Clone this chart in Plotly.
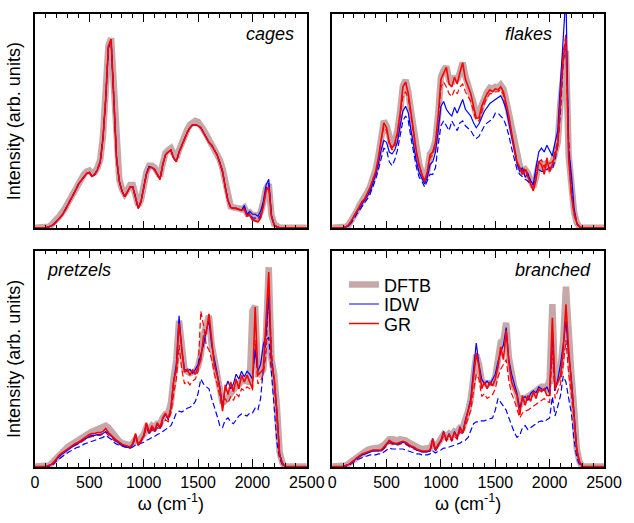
import plotly.graph_objects as go

# frequency grid (cm^-1)
omega = list(range(0, 2501, 25))

# ---------------- cages ----------------
cages_dftb = [0,0,0,0,0,1,3,5,9,12,15,20,25,30,35,41,47,51,55,58,59,56,57,62,70,94,135,187,195,135,75,50,40,35,39,44,44,35,23,29,44,57,64,64,62,57,53,66,77,80,82,76,72,80,88,95,101,106,109,110,109,106,101,96,91,88,83,78,70,61,45,30,22,21,21,20,19,21,15,16,13,13,11,16,26,40,45,13,4,1,0,0,0,0,0,0,0,0,0,0,0]
cages_idw = [0,0,0,0,0,1,2,4,7,10,13,18,23,28,33,39,45,49,53,56,57,53,55,60,68,92,132,185,193,132,72,48,38,32,37,42,42,32,20,27,42,56,63,62,60,55,50,65,75,78,80,72,68,78,85,92,98,103,106,106,105,103,98,93,88,85,80,75,67,58,42,28,21,20,20,19,18,23,14,17,14,14,12,17,27,44,50,13,3,1,0,0,0,0,0,0,0,0,0,0,0]
cages_idw_dash = [0,0,0,0,0,1,2,4,7,10,13,18,23,28,33,39,45,49,53,56,57,53,55,60,68,92,132,185,193,132,72,48,38,32,37,42,42,32,20,27,42,56,63,62,60,55,50,65,75,78,80,72,68,78,85,92,98,103,106,106,105,103,98,93,88,85,80,75,67,58,42,28,21,20,20,19,18,21,13,15,10,10,9,13,24,40,46,12,3,1,0,0,0,0,0,0,0,0,0,0,0]
cages_gr = [0,0,0,0,0,1,2,4,7,10,13,18,23,28,33,39,45,49,53,56,57,53,55,60,68,92,132,187,194,132,72,48,38,32,37,42,42,32,20,27,42,55,62,62,60,55,50,65,75,78,80,72,68,78,85,92,98,103,106,106,105,103,98,93,88,85,80,75,67,58,42,28,21,20,20,19,18,19,12,13,8,7,6,10,22,38,42,12,3,1,0,0,0,0,0,0,0,0,0,0,0]
cages_gr_dash = [0,0,0,0,0,1,2,4,7,10,13,18,23,28,33,39,45,49,53,56,57,53,55,60,68,92,132,186,194,132,72,48,38,32,37,42,42,32,20,27,42,55,62,62,60,55,50,65,75,78,80,72,68,78,85,92,98,103,106,106,105,103,98,93,88,85,80,75,67,58,42,28,21,20,20,19,18,20,13,14,9,8,7,11,23,39,43,12,3,1,0,0,0,0,0,0,0,0,0,0,0]

# ---------------- flakes ----------------
flakes_dftb = [0,0,0,0,0,1,3,7,12,17,23,27,31,37,43,51,60,74,94,110,105,90,84,89,100,120,146,152,140,120,100,80,66,56,50,59,76,80,90,117,155,162,166,152,148,156,152,160,170,156,148,140,128,116,115,126,134,140,144,143,145,144,147,143,131,117,100,84,70,64,58,60,56,48,42,52,66,66,60,68,62,66,76,88,130,162,182,74,37,16,5,1,0,0,0,0,0,0,0,0,0]
flakes_idw = [0,0,0,0,0,1,2,6,12,16,20,24,28,33,38,46,55,66,80,90,88,78,76,80,88,105,120,125,118,100,82,68,57,50,45,52,65,68,78,100,125,130,122,118,115,124,118,125,132,122,118,115,108,103,107,113,120,124,128,130,132,134,136,130,122,108,95,80,66,58,62,52,56,48,45,62,78,82,78,85,80,74,88,100,150,200,240,80,55,20,5,1,0,0,0,0,0,0,0,0,0]
flakes_idw_dash = [0,0,0,0,0,1,2,5,10,14,18,22,25,30,35,42,50,60,72,82,80,68,64,70,80,95,110,115,110,92,75,62,52,48,42,48,55,55,62,85,105,110,105,100,110,105,100,108,110,105,102,100,95,92,94,100,105,108,110,112,118,118,115,112,105,95,82,70,60,55,52,50,48,45,44,55,60,58,58,60,62,60,70,85,120,170,190,90,40,15,4,1,0,0,0,0,0,0,0,0,0]
flakes_gr = [0,0,0,0,0,1,3,7,12,17,23,27,30,36,42,50,58,72,92,108,103,88,82,87,98,118,145,150,138,118,98,78,65,55,48,58,75,78,88,115,153,160,165,148,145,155,148,160,170,153,145,138,125,113,113,125,132,138,142,140,143,142,145,140,128,115,98,82,68,62,55,60,53,45,38,50,68,65,55,70,58,65,75,85,132,175,195,72,35,15,5,1,0,0,0,0,0,0,0,0,0]
flakes_gr_dash = [0,0,0,0,0,1,3,7,12,17,22,26,29,34,40,48,56,70,90,104,100,86,80,84,96,114,135,140,133,115,96,76,63,54,47,56,72,75,85,110,145,150,145,138,135,142,138,145,148,140,135,130,120,110,110,120,128,134,138,138,140,140,142,137,125,112,96,80,67,60,58,62,55,48,42,55,68,70,62,72,66,68,78,90,140,180,200,75,35,13,4,1,0,0,0,0,0,0,0,0,0]

# ---------------- pretzels ----------------
pretzels_dftb = [0,0,0,0,0,1,3,6,10,13,16,18,20,22,24,26,27,29,31,33,35,36,37,38,39,40,42,40,36,32,29,26,24,23,22,22,24,28,26,29,33,40,38,42,40,44,44,50,54,55,65,90,110,150,115,100,98,96,97,98,103,115,135,145,155,125,105,95,80,65,68,72,75,78,82,84,88,88,88,86,160,165,95,95,100,135,205,110,95,62,15,4,0,0,0,0,0,0,0,0,0]
pretzels_idw = [0,0,0,0,0,1,2,5,8,11,13,15,17,19,21,23,24,26,28,29,31,32,32,33,33,34,36,34,31,28,26,24,22,21,20,19,23,33,22,27,31,44,34,41,36,44,39,49,54,48,60,88,105,155,120,100,98,100,96,100,105,115,125,140,150,125,110,98,82,62,80,88,80,85,95,90,98,92,98,95,90,120,98,105,125,135,175,110,90,58,13,4,0,0,0,0,0,0,0,0,0]
pretzels_idw_dash = [0,0,0,0,0,0,1,3,6,8,10,12,14,16,17,19,20,21,23,24,25,26,27,28,29,30,32,30,28,25,23,22,21,20,20,19,20,22,23,24,25,27,28,30,31,33,34,36,38,40,42,48,55,57,56,58,60,61,63,67,75,90,85,82,80,70,62,52,42,40,48,50,46,44,48,52,54,53,52,55,55,60,58,70,100,130,133,95,55,25,8,2,0,0,0,0,0,0,0,0,0]
pretzels_gr = [0,0,0,0,0,1,2,5,9,12,14,16,18,20,22,24,25,27,29,31,33,34,34,35,35,36,39,35,32,29,27,25,23,22,21,20,24,34,22,27,32,45,35,42,37,45,40,50,55,49,60,87,100,147,124,97,100,94,99,95,102,110,134,137,157,127,104,94,80,57,84,74,87,77,90,80,94,87,94,87,80,164,94,97,100,150,200,105,92,55,12,3,0,0,0,0,0,0,0,0,0]
pretzels_gr_dash = [0,0,0,0,0,1,2,4,8,11,13,15,17,19,21,22,23,25,27,28,30,31,31,32,32,33,35,32,29,27,25,23,22,21,20,19,22,30,21,25,30,40,33,38,35,40,38,45,48,46,55,75,90,125,100,85,88,84,88,90,98,160,145,125,120,110,95,85,72,60,70,65,72,68,75,72,80,78,82,80,78,130,85,88,95,115,180,120,85,55,13,3,0,0,0,0,0,0,0,0,0]

# ---------------- branched ----------------
branched_dftb = [0,0,0,0,0,1,3,5,8,11,13,15,16,17,18,19,19,19,20,22,25,28,28,27,27,28,28,27,25,23,22,20,19,18,18,18,19,24,21,24,28,33,31,34,32,36,35,40,40,48,57,70,95,115,105,88,86,84,86,86,92,108,128,130,148,112,92,82,75,62,70,70,72,74,77,78,80,82,82,80,90,167,85,90,100,130,185,125,95,60,18,5,0,0,0,0,0,0,0,0,0]
branched_idw = [0,0,0,0,0,1,2,4,6,8,10,12,13,14,15,16,16,16,16,19,22,26,24,23,23,24,25,24,22,20,19,17,16,15,15,15,16,29,16,22,26,36,27,34,27,36,29,41,34,48,58,70,100,127,105,90,85,88,84,90,95,108,118,125,143,110,95,85,75,60,70,72,68,75,78,76,82,80,78,82,75,140,78,90,105,125,150,115,90,55,17,5,0,0,0,0,0,0,0,0,0]
branched_idw_dash = [0,0,0,0,0,0,1,3,5,7,8,9,10,11,12,12,12,13,13,15,17,19,18,18,18,18,18,17,16,15,14,13,13,12,12,12,13,16,14,16,17,19,19,20,21,22,23,24,26,27,30,38,44,46,46,47,47,48,49,50,58,70,66,62,58,50,42,35,30,32,40,42,38,40,42,44,46,47,46,48,50,72,52,62,73,93,87,70,55,27,9,2,0,0,0,0,0,0,0,0,0]
branched_gr = [0,0,0,0,0,1,2,4,7,9,11,13,14,15,16,17,17,17,17,20,23,27,25,24,24,25,26,25,23,21,20,18,17,16,16,16,17,28,17,23,27,35,28,33,28,35,30,40,35,47,57,67,93,117,103,80,87,80,87,83,90,103,123,110,140,107,87,80,73,53,73,63,73,67,77,70,80,77,80,73,73,153,80,87,93,120,167,120,87,53,17,5,0,0,0,0,0,0,0,0,0]
branched_gr_dash = [0,0,0,0,0,1,2,4,6,8,10,12,13,14,15,16,16,16,16,18,21,24,23,22,22,23,24,23,21,19,18,17,16,15,15,15,16,24,16,21,25,31,26,30,26,31,28,36,33,42,50,58,78,95,90,72,75,70,72,74,80,92,100,105,110,88,75,68,60,50,55,57,58,60,62,64,66,68,70,67,66,120,70,78,85,105,130,95,75,48,15,4,0,0,0,0,0,0,0,0,0]

panel_names = ["cages", "flakes", "pretzels", "branched"]
panel_data = {
    "cages": (cages_dftb, cages_idw, cages_idw_dash, cages_gr, cages_gr_dash),
    "flakes": (flakes_dftb, flakes_idw, flakes_idw_dash, flakes_gr, flakes_gr_dash),
    "pretzels": (pretzels_dftb, pretzels_idw, pretzels_idw_dash, pretzels_gr, pretzels_gr_dash),
    "branched": (branched_dftb, branched_idw, branched_idw_dash, branched_gr, branched_gr_dash),
}
x_ticks = [0, 500, 1000, 1500, 2000, 2500]

W, H = 634, 523
ML, MR, MT, MB = 35, 17, 12, 46
PW, PH = W - ML - MR, H - MT - MB

def fx(px):
    return (px - ML) / PW

def fy(py):
    return (H - MB - py) / PH

# panel pixel boxes (left, right, top, bottom)
boxes = {
    "cages": (35, 313, 12, 232),
    "flakes": (339, 617, 12, 232),
    "pretzels": (35, 313, 255, 477),
    "branched": (339, 617, 255, 477),
}

DFTB_COL = "rgba(160,110,110,0.6)"
BLUE = "rgb(0,0,255)"
RED = "rgb(255,0,0)"
FONT = "Liberation Sans, Arial, sans-serif"

fig = go.Figure()
layout = {}
for i, name in enumerate(panel_names, start=1):
    xa = "x" if i == 1 else f"x{i}"
    ya = "y" if i == 1 else f"y{i}"
    dftb, idw, idw_d, gr, gr_d = panel_data[name]
    first = (i == 1)
    fig.add_trace(go.Scatter(x=omega, y=dftb, xaxis=xa, yaxis=ya, mode="lines",
                             line=dict(color=DFTB_COL, width=6.5), name="DFTB",
                             legend="legend", legendgroup="dftb", showlegend=first))
    fig.add_trace(go.Scatter(x=omega, y=idw_d, xaxis=xa, yaxis=ya, mode="lines",
                             line=dict(color=BLUE, width=1.2, dash="6px,3px"), name="IDW (dashed)",
                             showlegend=False))
    fig.add_trace(go.Scatter(x=omega, y=gr_d, xaxis=xa, yaxis=ya, mode="lines",
                             line=dict(color=RED, width=1.2, dash="6px,3px"), name="GR (dashed)",
                             showlegend=False))
    fig.add_trace(go.Scatter(x=omega, y=idw, xaxis=xa, yaxis=ya, mode="lines",
                             line=dict(color=BLUE, width=1.2), name="IDW",
                             legend="legend2", legendgroup="idw", showlegend=first))
    fig.add_trace(go.Scatter(x=omega, y=gr, xaxis=xa, yaxis=ya, mode="lines",
                             line=dict(color=RED, width=1.6), name="GR",
                             legend="legend3", legendgroup="gr", showlegend=first))

    l, r, t, b = boxes[name]
    bottom_row = name in ("pretzels", "branched")
    left_col = name in ("cages", "pretzels")
    xkey = "xaxis" if i == 1 else f"xaxis{i}"
    ykey = "yaxis" if i == 1 else f"yaxis{i}"
    xaxis = dict(
        domain=[fx(l), fx(r)], anchor=ya, range=[0, 2500],
        tickvals=x_ticks, ticks="inside", ticklen=8, tickwidth=1.2, tickcolor="black",
        minor=dict(dtick=100, ticks="inside", ticklen=4, tickwidth=1.2, tickcolor="black"),
        showline=True, linecolor="black", linewidth=1.5, mirror="ticks",
        showgrid=False, zeroline=False,
        showticklabels=bottom_row,
        tickfont=dict(family=FONT, size=16, color="black"),
    )
    if bottom_row:
        xaxis["title"] = dict(text="ω (cm<sup>-1</sup>)",
                              font=dict(family=FONT, size=18, color="black"), standoff=7)
    yr = [-0.5, 220] if not bottom_row else [-0.5, 222]
    yaxis = dict(
        domain=[fy(b), fy(t)], anchor=xa, range=yr,
        showline=True, linecolor="black", linewidth=1.5, mirror=True,
        ticks="", showticklabels=False, showgrid=False, zeroline=False,
    )
    if left_col:
        yaxis["title"] = dict(text="Intensity (arb. units)",
                              font=dict(family=FONT, size=18, color="black"), standoff=8)
    layout[xkey] = xaxis
    layout[ykey] = yaxis

annotations = [
    dict(text="<i>cages</i>", x=fx(302), y=fy(33), xanchor="right", yanchor="middle"),
    dict(text="<i>flakes</i>", x=fx(566), y=fy(33), xanchor="right", yanchor="middle"),
    dict(text="<i>pretzels</i>", x=fx(45), y=fy(275), xanchor="left", yanchor="middle"),
    dict(text="<i>branched</i>", x=fx(606), y=fy(275), xanchor="right", yanchor="middle"),
]
for a in annotations:
    a.update(xref="paper", yref="paper", showarrow=False,
             font=dict(family=FONT, size=18, color="black"))

leg_common = dict(xanchor="left", yanchor="top", bgcolor="rgba(0,0,0,0)",
                  font=dict(family=FONT, size=18, color="black"), itemwidth=30)

fig.update_layout(
    width=W, height=H,
    margin=dict(l=ML, r=MR, t=MT, b=MB),
    paper_bgcolor="white", plot_bgcolor="white",
    font=dict(family=FONT, color="black"),
    annotations=annotations,
    legend=dict(x=fx(351), y=fy(271), **leg_common),
    legend2=dict(x=fx(351), y=fy(291), **leg_common),
    legend3=dict(x=fx(351), y=fy(311), **leg_common),
    **layout,
)

fig.write_html("out.html")
